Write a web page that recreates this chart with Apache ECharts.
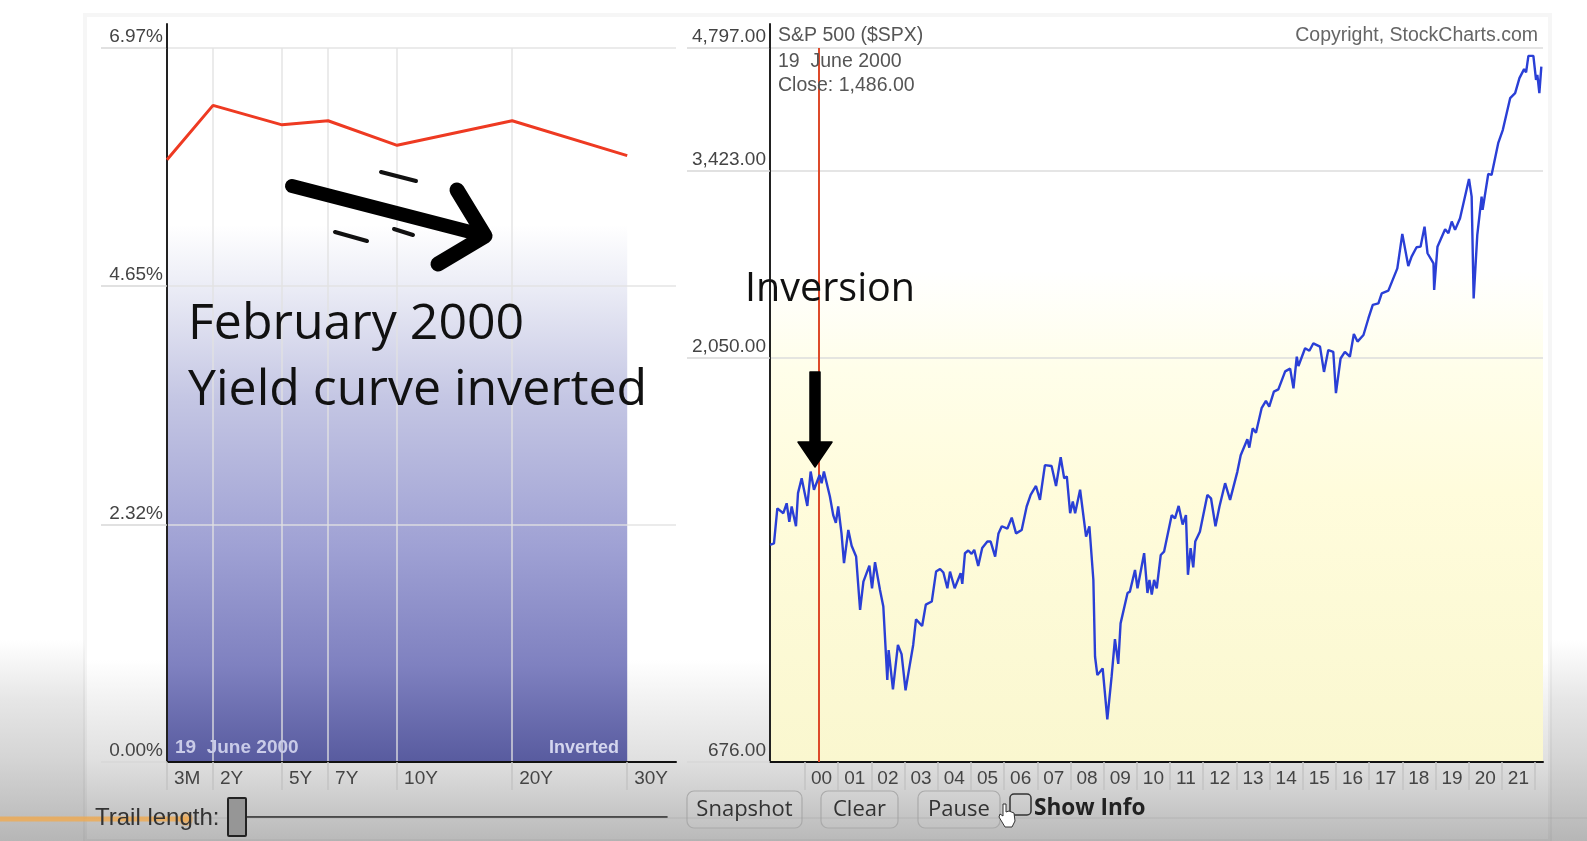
<!DOCTYPE html>
<html><head><meta charset="utf-8">
<script src="https://cdn.jsdelivr.net/npm/echarts@6/dist/echarts.min.js"></script>
<style>html,body{margin:0;padding:0;background:#fff}#c{width:1587px;height:841px}</style>
</head><body><div id="c"></div>
<script>
const tenorLabels = ['3M','2Y','5Y','7Y','10Y','20Y','30Y'];
const tenorSlots = [0,1,2.5,3.5,5,7.5,10];
const yields = [5.88,6.41,6.22,6.26,6.02,6.26,5.92];
const yieldTicks = [0,2.32,4.65,6.97];
const spxTicks = [676,2050,3423,4797];
const yearTicks = [2000,2001,2002,2003,2004,2005,2006,2007,2008,2009,2010,2011,2012,2013,2014,2015,2016,2017,2018,2019,2020,2021,2022];
const yearLabels = yearTicks.slice(0,-1);
const markerYear = 2000.40;
const spxDates = [1998.945,1999.065,1999.166,1999.347,1999.447,1999.527,1999.598,1999.728,1999.789,1999.899,2000.07,2000.17,2000.27,2000.44,2000.50,2000.57,2000.63,2000.75,2000.85,2000.93,2001.00,2001.10,2001.175,2001.305,2001.405,2001.54,2001.66,2001.76,2001.94,2002.02,2002.11,2002.26,2002.36,2002.48,2002.52,2002.65,2002.80,2002.91,2003.03,2003.14,2003.26,2003.345,2003.53,2003.64,2003.82,2003.95,2004.07,2004.17,2004.29,2004.37,2004.51,2004.69,2004.74,2004.82,2004.92,2005.02,2005.10,2005.22,2005.34,2005.495,2005.595,2005.73,2005.83,2005.93,2006.10,2006.23,2006.36,2006.53,2006.68,2006.80,2006.96,2007.08,2007.23,2007.43,2007.565,2007.705,2007.81,2007.89,2007.99,2008.07,2008.14,2008.29,2008.47,2008.57,2008.69,2008.74,2008.81,2008.97,2009.11,2009.24,2009.34,2009.44,2009.51,2009.72,2009.79,2009.945,2010.02,2010.22,2010.32,2010.38,2010.45,2010.52,2010.60,2010.72,2010.82,2011.05,2011.15,2011.26,2011.38,2011.48,2011.54,2011.62,2011.70,2011.76,2011.90,2012.125,2012.235,2012.37,2012.49,2012.66,2012.81,2013.03,2013.13,2013.33,2013.39,2013.49,2013.59,2013.76,2013.89,2013.99,2014.13,2014.265,2014.47,2014.62,2014.72,2014.82,2014.87,2015.07,2015.2,2015.32,2015.52,2015.64,2015.77,2015.92,2016.0,2016.14,2016.27,2016.42,2016.54,2016.65,2016.83,2016.98,2017.11,2017.28,2017.38,2017.58,2017.85,2018.0,2018.18,2018.28,2018.43,2018.55,2018.67,2018.76,2018.94,2018.96,2019.06,2019.29,2019.39,2019.49,2019.59,2019.74,2020.01,2020.09,2020.15,2020.26,2020.32,2020.39,2020.42,2020.59,2020.69,2020.89,2021.03,2021.25,2021.40,2021.53,2021.67,2021.73,2021.80,2021.95,2022.03,2022.07,2022.13,2022.19];
const spxClose = [1227,1232,1356,1338,1375,1307,1363,1291,1414,1473,1365,1500,1427,1486,1453,1500,1493,1401,1331,1303,1363,1266,1167,1278,1224,1188,1026,1109,1159,1089,1170,1084,1036,847,919,825,932,909,823,874,932,1000,982,1041,1050,1140,1148,1137,1089,1140,1089,1135,1102,1199,1208,1197,1210,1158,1216,1238,1238,1188,1266,1291,1283,1322,1266,1278,1363,1407,1442,1388,1527,1523,1442,1560,1473,1480,1338,1382,1338,1427,1255,1291,1114,903,858,874,760,855,947,885,989,1075,1079,1145,1089,1199,1075,1114,1070,1114,1089,1193,1204,1331,1319,1365,1297,1331,1130,1216,1153,1238,1272,1407,1394,1291,1363,1453,1388,1500,1569,1639,1602,1689,1669,1785,1821,1793,1868,1880,1975,1990,1885,2056,2004,2104,2090,2133,2114,1972,2094,2084,1860,2046,2084,2056,2188,2143,2182,2285,2370,2380,2447,2465,2620,2880,2637,2706,2776,2781,2938,2731,2656,2470,2781,2917,2885,2980,2912,3006,3349,3190,2413,2872,2885,3190,3076,3395,3386,3694,3832,4180,4238,4416,4527,4486,4695,4695,4395,4456,4238,4559];

const AX='"Liberation Sans",Arial,sans-serif', OS='"Open Sans",sans-serif';
const txt=(x,y,s,o)=>Object.assign({type:'text',z:50,silent:true,x,y,style:Object.assign({text:s,fill:'#555',font:'19.5px '+AX,verticalAlign:'middle',textAlign:'left'},o||{})});
const seg=(x1,y1,x2,y2,w,c,z)=>({type:'line',z:z||40,silent:true,shape:{x1,y1,x2,y2},style:{stroke:c||'#111',lineWidth:w||2,lineCap:'round'}});
const vg=(y1,y2,stops)=>({type:'linear',x:0,y:y1,x2:0,y2:y2,global:true,colorStops:stops});
const btn=(x,w,s)=>[{type:'rect',z:40,silent:true,shape:{x,y:791,width:w,height:37,r:7},style:{fill:'rgba(255,255,255,0.06)',stroke:'#aaa',lineWidth:1.2}},
  txt(x+w/2,810,s,{font:'22px '+OS,fill:'#333',textAlign:'center'})];

const graphicEls=[
 {type:'rect',z:-30,silent:true,shape:{x:0,y:0,width:1587,height:841},style:{fill:vg(640,841,[{offset:0,color:'#ffffff'},{offset:.3,color:'#e6e6e6'},{offset:.6,color:'#d4d4d4'},{offset:1,color:'#b6b6b6'}])}},
 {type:'rect',z:-29,silent:true,shape:{x:85,y:15,width:1465,height:826},style:{fill:vg(660,841,[{offset:0,color:'#ffffff'},{offset:.25,color:'#f0f0f0'},{offset:.55,color:'#e0e0e0'},{offset:1,color:'#b9b9b9'}]),stroke:'rgba(0,0,0,0.035)',lineWidth:4}},
 seg(167,24,167,48,2,'#222'), seg(770,24,770,48,2,'#222'),
 txt(778,36,'S&P 500 ($SPX)'), txt(778,62,'19  June 2000'), txt(778,86,'Close: 1,486.00'),
 txt(1538,36,'Copyright, StockCharts.com',{textAlign:'right',fill:'#666'}),
 txt(175,748,'19  June 2000',{font:'bold 19px '+AX,fill:'#c9cbe8'}),
 txt(619,748,'Inverted',{font:'bold 18px '+AX,fill:'#d4d6ee',textAlign:'right'}),
 txt(188,325,'February 2000',{font:'50px '+OS,fill:'#111'}),
 txt(188,391,'Yield curve inverted',{font:'50px '+OS,fill:'#111'}),
 txt(745,290,'Inversion',{font:'39.5px '+OS,fill:'#111'}),
 seg(292,186,482,235,14,'#000'),
 {type:'polyline',z:40,silent:true,shape:{points:[[457,190],[485,236],[438,264]]},style:{stroke:'#000',lineWidth:15,lineCap:'round',lineJoin:'round',fill:'none'}},
 seg(381,172,416,181,4), seg(335,232,367,241,4), seg(394,229,413,235,4),
 {type:'polygon',z:40,silent:true,shape:{points:[[810,372],[820,372],[820,442],[832,442],[815,467],[798,442],[810,442]]},style:{fill:'#000',stroke:'#000',lineWidth:1.5,lineJoin:'round'}},
 seg(0,818,1587,818,1,'rgba(150,150,150,0.35)',41),
 seg(0,819,188,819,5,'rgba(240,170,80,0.8)',45),
 {type:'circle',z:46,silent:true,shape:{cx:186,cy:819,r:7},style:{fill:'rgba(240,170,80,0.55)'}},
 txt(95,818,'Trail length:',{font:'24px '+AX,fill:'#333'}),
 seg(246,817,667,817,1.6,'#222'),
 {type:'rect',z:42,silent:true,shape:{x:228,y:798,width:18,height:38,r:1},style:{fill:'#969696',stroke:'#222',lineWidth:2}},
 ...btn(687,115,'Snapshot'), ...btn(821,77,'Clear'), ...btn(918,82,'Pause'),
 {type:'rect',z:42,silent:true,shape:{x:1010,y:794,width:21,height:21,r:4},style:{fill:'rgba(255,255,255,0.05)',stroke:'#333',lineWidth:1.5}},
 txt(1034,809,'Show Info',{font:'bold 22.6px '+OS,fill:'#222'}),
 {type:'polygon',z:47,silent:true,shape:{points:[[1003,804],[1006,804],[1006,812],[1009,811],[1014,813],[1015,821],[1012,827],[1005,827],[999,817],[1000,814],[1003,816]]},style:{fill:'#fff',stroke:'#333',lineWidth:1}}
];

const chart=echarts.init(document.getElementById('c'),null,{renderer:'canvas'});
chart.setOption({
 animation:false, backgroundColor:'transparent',
 grid:[
  {left:167,top:48,width:509,height:714,show:false},
  {left:770,top:48,width:773,height:714,show:true,borderWidth:0,
   backgroundColor:vg(270,762,[{offset:0,color:'#ffffff'},{offset:.2,color:'#fffeea'},{offset:.45,color:'#fffcdc'},{offset:1,color:'#faf7cf'}])}
 ],
 xAxis:[
  {gridIndex:0,type:'value',min:0,max:11.06,z:3,
   axisLine:{show:true,lineStyle:{color:'#111',width:2}},
   axisTick:{show:true,customValues:tenorSlots,length:28,lineStyle:{color:'#c4c4c4',width:1.5}},
   axisLabel:{customValues:tenorSlots,margin:7,align:'left',padding:[0,0,0,7],color:'#444',fontFamily:AX,fontSize:19,
     formatter:v=>tenorLabels[tenorSlots.indexOf(v)]},
   splitLine:{show:true,lineStyle:{color:['rgba(225,225,225,0.9)','rgba(225,225,225,0.9)','rgba(225,225,225,0.9)','rgba(225,225,225,0.9)','rgba(225,225,225,0.9)','rgba(225,225,225,0.9)','rgba(0,0,0,0)'],width:1.5}}},
  {gridIndex:1,type:'value',min:1998.945,max:2022.24,
   axisLine:{show:true,lineStyle:{color:'#111',width:2}},
   axisTick:{show:true,customValues:yearTicks,length:28,lineStyle:{color:'#c4c4c4',width:1.5}},
   axisLabel:{customValues:yearLabels,margin:7,align:'left',padding:[0,0,0,6],color:'#444',fontFamily:AX,fontSize:19,
     formatter:v=>String(Math.round(v)%100).padStart(2,'0')},
   splitLine:{show:false}}
 ],
 yAxis:[
  {gridIndex:0,type:'value',min:0,max:6.97,z:3,
   axisLine:{show:true,lineStyle:{color:'#222',width:2}},
   axisTick:{show:true,customValues:yieldTicks,length:66,lineStyle:{color:'#d8d8d8',width:1.5}},
   axisLabel:{customValues:yieldTicks,margin:4,verticalAlign:'bottom',color:'#444',fontFamily:AX,fontSize:19,lineHeight:22,
     formatter:v=>v.toFixed(2)+'%'},
   splitLine:{show:true,lineStyle:{color:'rgba(225,225,225,0.9)',width:1.5}}},
  {gridIndex:1,type:'log',logBase:10,min:676,max:4797,
   axisLine:{show:true,lineStyle:{color:'#222',width:2}},
   axisTick:{show:true,customValues:spxTicks,length:83,lineStyle:{color:'#d8d8d8',width:1.5}},
   axisLabel:{customValues:spxTicks,margin:4,verticalAlign:'bottom',color:'#444',fontFamily:AX,fontSize:19,lineHeight:22,
     formatter:v=>Math.round(v).toLocaleString('en-US')+'.00'},
   splitLine:{show:true,lineStyle:{color:'#dcdcdc',width:1.5}}}
 ],
 series:[
  {type:'line',name:'Curve fill',xAxisIndex:0,yAxisIndex:0,z:1,symbol:'none',silent:true,lineStyle:{width:0},
   data:tenorSlots.map((x,i)=>[x,yields[i]]),
   areaStyle:{opacity:1,color:vg(225,762,[{offset:0,color:'#ffffff'},{offset:.1,color:'#eeeff7'},{offset:.33,color:'#c3c5e3'},{offset:.6,color:'#9fa1d4'},{offset:.82,color:'#7f81c0'},{offset:1,color:'#585b9f'}])}},
  {type:'line',name:'Yield curve',xAxisIndex:0,yAxisIndex:0,z:5,symbol:'none',silent:true,
   data:tenorSlots.map((x,i)=>[x,yields[i]]),lineStyle:{color:'#ee3a22',width:3}},
  {type:'line',name:'S&P 500',xAxisIndex:1,yAxisIndex:1,z:5,symbol:'none',silent:true,
   data:spxDates.map((x,i)=>[x,spxClose[i]]),lineStyle:{color:'#2a3fd6',width:2.4},
   markLine:{silent:true,symbol:'none',label:{show:false},lineStyle:{color:'#dd4a2a',width:2,type:'solid'},data:[{xAxis:markerYear}]}}
 ],
 graphic:{elements:graphicEls}
});
</script></body></html>
